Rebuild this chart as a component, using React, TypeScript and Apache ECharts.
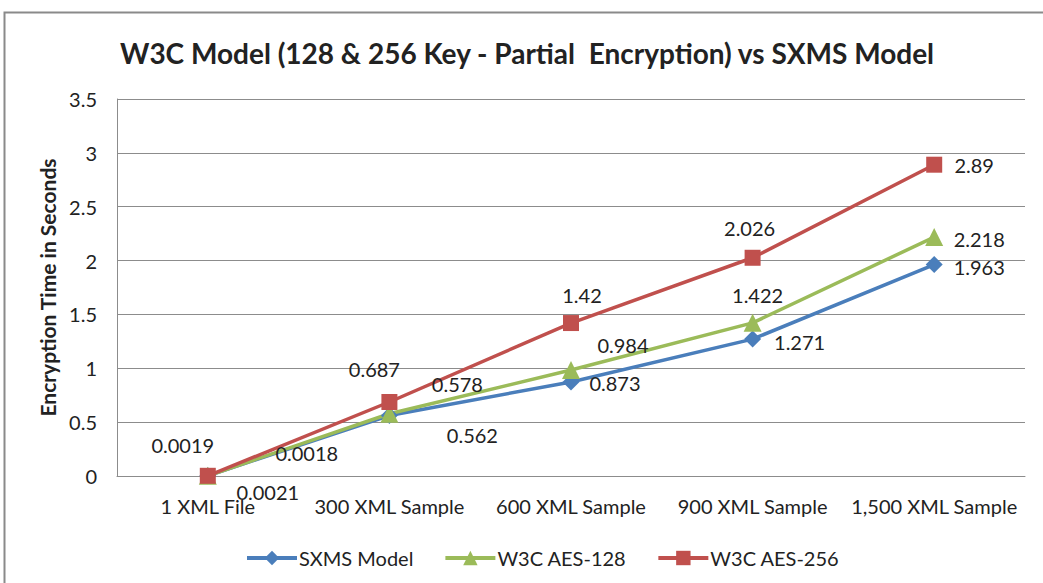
import React, { useEffect, useRef } from "react";
import * as echarts from "echarts";

const categories = ["1 XML File", "300 XML Sample", "600 XML Sample", "900 XML Sample", "1,500 XML Sample"];
const sxmsValues = [0.0021, 0.562, 0.873, 1.271, 1.963];
const aes128Values = [0.0018, 0.578, 0.984, 1.422, 2.218];
const aes256Values = [0.0019, 0.687, 1.42, 2.026, 2.89];
const seriesNames = ["SXMS Model", "W3C AES-128", "W3C AES-256"];

// label placement (offset of the label centre from its point, in px)
const sxmsLabelOffsets = [[60, 16], [83, 20], [44, 1], [47, 3], [45, 2]];
const aes128LabelOffsets = [[99, -23], [68, -30], [52, -25], [5, -28], [45, 2]];
const aes256LabelOffsets = [[-25, -31], [-15, -33], [11, -28], [-3, -30], [40, 0]];

const FONT = "Lato, Calibri, 'Open Sans', sans-serif";
const TEXT = "#222";
const GRID_COLOR = "#8c8c8c";

function makeSeries(name: string, values: number[], color: string, symbol: string, size: number, offsets: number[][]) {
  return {
    name,
    type: "line",
    data: values.map((v, i) => ({ value: v, label: { offset: offsets[i] } })),
    symbol,
    symbolSize: size,
    showAllSymbol: true,
    itemStyle: { color },
    lineStyle: { color, width: 3.5 },
    label: {
      show: true,
      position: "inside",
      fontFamily: FONT,
      fontSize: 20,
      color: TEXT,
    },
    emphasis: { disabled: true },
  };
}

export default function App() {
  const ref = useRef<HTMLDivElement>(null);
  useEffect(() => {
    if (!ref.current) return;
    const chart = echarts.init(ref.current, undefined, { renderer: "svg" });
    chart.setOption({
      animation: false,
      backgroundColor: "#ffffff",
      title: {
        text: "W3C Model (128 & 256 Key - Partial  Encryption) vs SXMS Model",
        left: 527,
        textAlign: "center",
        top: 39,
        padding: 0,
        textStyle: { fontFamily: FONT, fontWeight: "bold", fontSize: 28, color: TEXT },
      },
      graphic: [
        {
          type: "rect",
          shape: { x: 4.5, y: 12.5, width: 1100, height: 700 },
          style: { fill: "none", stroke: "#8a8a8a", lineWidth: 2 },
          silent: true,
        },
      ],
      grid: { left: 117, right: 18, top: 99, bottom: 107, containLabel: false },
      legend: {
        left: 240,
        top: 543,
        itemWidth: 50,
        itemHeight: 18,
        itemGap: 30,
        data: seriesNames,
        lineStyle: { width: 4 },
        textStyle: { fontFamily: FONT, fontSize: 20, color: TEXT, padding: [0, 0, 0, -3] },
      },
      xAxis: {
        type: "category",
        data: categories,
        boundaryGap: true,
        axisLine: { show: true, lineStyle: { color: GRID_COLOR, width: 1 } },
        axisTick: { show: false },
        axisLabel: { interval: 0, margin: 20, fontFamily: FONT, fontSize: 20, color: TEXT },
      },
      yAxis: {
        type: "value",
        min: 0,
        max: 3.5,
        interval: 0.5,
        name: "Encryption Time in Seconds",
        nameLocation: "middle",
        nameGap: 58,
        nameTextStyle: { fontFamily: FONT, fontWeight: "bold", fontSize: 21, color: TEXT },
        axisLine: { show: true, lineStyle: { color: GRID_COLOR, width: 1 } },
        axisTick: { show: false },
        axisLabel: { margin: 20, fontFamily: FONT, fontSize: 20, color: TEXT },
        splitLine: { show: true, lineStyle: { color: GRID_COLOR, width: 1 } },
      },
      series: [
        makeSeries(seriesNames[0], sxmsValues, "#4A7EBB", "diamond", 17, sxmsLabelOffsets),
        makeSeries(seriesNames[1], aes128Values, "#9BBB59", "triangle", 18, aes128LabelOffsets),
        makeSeries(seriesNames[2], aes256Values, "#C0504D", "rect", 16, aes256LabelOffsets),
      ],
    });
    return () => chart.dispose();
  }, []);
  return <div ref={ref} style={{ position: "absolute", left: 0, top: 0, width: 1043, height: 583 }} />;
}
